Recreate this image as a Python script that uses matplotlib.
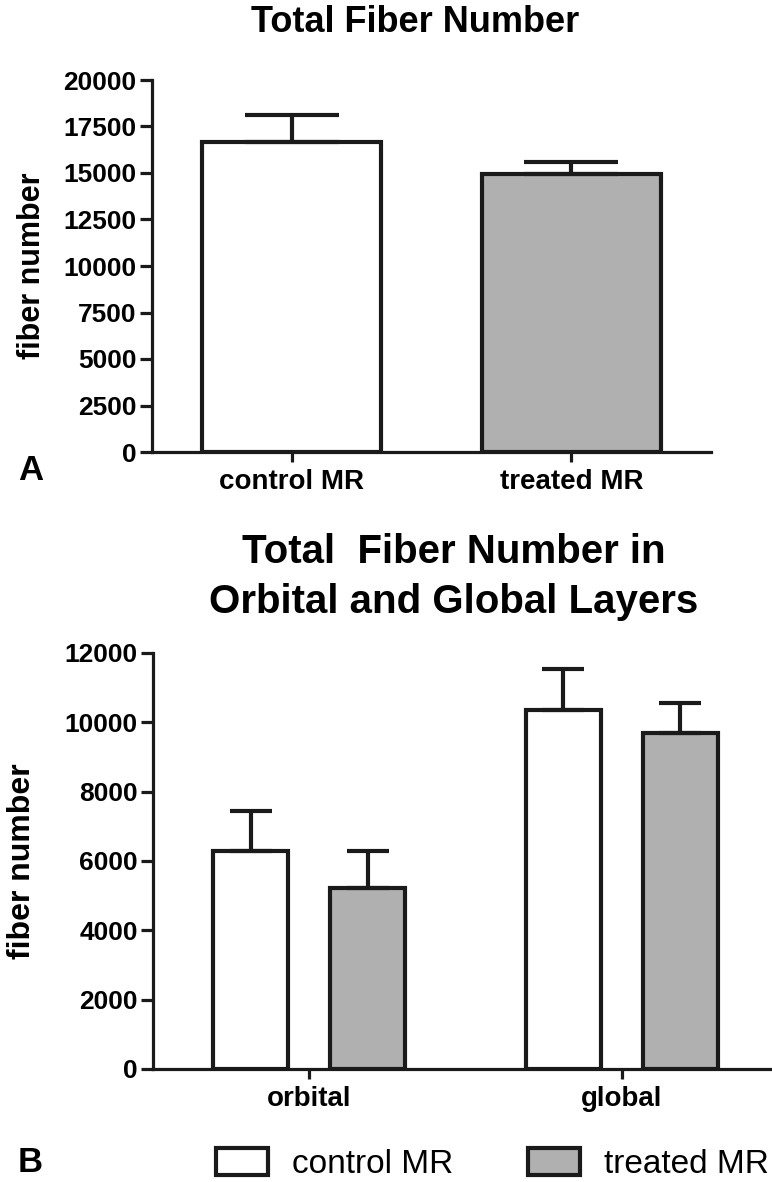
import matplotlib
matplotlib.use("Agg")
import matplotlib.pyplot as plt
import numpy as np

plt.rcParams['font.family'] = ['Liberation Sans', 'DejaVu Sans']

# Panel A data
groups_a = ['control MR', 'treated MR']
means_a = [16650, 14950]
errs_a = [1450, 650]

# Panel B data
layers = ['orbital', 'global']
control_b = [6300, 10350]
control_err_b = [1150, 1200]
treated_b = [5220, 9700]
treated_err_b = [1070, 870]

ticks_a = [0, 2500, 5000, 7500, 10000, 12500, 15000, 17500, 20000]
ticks_b = [0, 2000, 4000, 6000, 8000, 10000, 12000]

edge = '#1a1a1a'
gray = '#b0b0b0'
lw = 3.0

fig = plt.figure(figsize=(7.72, 11.82), dpi=100)


def style_axes(ax):
    for s in ['top', 'right']:
        ax.spines[s].set_visible(False)
    for s in ['left', 'bottom']:
        ax.spines[s].set_linewidth(2.3)
        ax.spines[s].set_color(edge)
    ax.tick_params(axis='y', length=9, width=2.3, color=edge, pad=2,
                   labelsize=19)
    ax.tick_params(axis='x', length=7, width=2.3, color=edge, pad=5,
                   labelsize=20)
    for lab in ax.get_xticklabels() + ax.get_yticklabels():
        lab.set_fontweight('bold')


# ---- Panel A ----
ax1 = fig.add_axes([152 / 772, 1 - 452 / 1182, (711 - 152) / 772, 372 / 1182])
x_a = np.arange(len(groups_a))
ax1.bar(x_a, means_a, width=0.64, color=['white', gray], edgecolor=edge,
        linewidth=lw, zorder=2)
ax1.errorbar(x_a, means_a, yerr=[[0, 0], errs_a], fmt='none', ecolor=edge,
             elinewidth=lw, capsize=34, capthick=lw, zorder=3)
ax1.set_xlim(-0.5, 1.5)
ax1.set_ylim(0, 20000)
ax1.set_yticks(ticks_a)
ax1.set_xticks(x_a)
ax1.set_xticklabels(groups_a)
style_axes(ax1)
ax1.set_ylabel('fiber number', fontsize=22, fontweight='bold')
ax1.yaxis.set_label_coords(-0.188, 0.5)
fig.text(415 / 772, 1 - 22 / 1182, 'Total Fiber Number', ha='center',
         va='center', fontsize=26, fontweight='bold')
fig.text(18 / 772, 1 - 470 / 1182, 'A', ha='left', va='center',
         fontsize=25, fontweight='bold')

# ---- Panel B ----
ax2 = fig.add_axes([153 / 772, 1 - 1069 / 1182, (778 - 153) / 772, 416 / 1182])
x_b = np.arange(len(layers))
off = 0.1875
w = 0.24
b1 = ax2.bar(x_b - off, control_b, width=w, color='white', edgecolor=edge,
             linewidth=lw, zorder=2, label='control MR')
b2 = ax2.bar(x_b + off, treated_b, width=w, color=gray, edgecolor=edge,
             linewidth=lw, zorder=2, label='treated MR')
ax2.errorbar(x_b - off, control_b, yerr=[[0, 0], control_err_b], fmt='none',
             ecolor=edge, elinewidth=lw, capsize=15, capthick=lw, zorder=3)
ax2.errorbar(x_b + off, treated_b, yerr=[[0, 0], treated_err_b], fmt='none',
             ecolor=edge, elinewidth=lw, capsize=15, capthick=lw, zorder=3)
ax2.set_xlim(-0.5, 1.5)
ax2.set_ylim(0, 12000)
ax2.set_yticks(ticks_b)
ax2.set_xticks(x_b)
ax2.set_xticklabels(layers)
style_axes(ax2)
ax2.set_ylabel('fiber number', fontsize=23, fontweight='bold')
ax2.yaxis.set_label_coords(-0.185, 0.5)
fig.text(454 / 772, 1 - 577 / 1182,
         'Total  Fiber Number in\nOrbital and Global Layers', ha='center',
         va='center', fontsize=29, fontweight='bold', linespacing=1.38)
fig.text(18 / 772, 1 - 1163 / 1182, 'B', ha='left', va='center',
         fontsize=25, fontweight='bold')

leg = fig.legend(handles=[b1, b2], labels=['control MR', 'treated MR'],
                 loc='center left', bbox_to_anchor=(216 / 772, 1 - 1164 / 1182),
                 ncol=2, frameon=False, fontsize=24, handlelength=1.56,
                 handleheight=0.84, handletextpad=0.72, columnspacing=2.25,
                 borderpad=0, borderaxespad=0)

fig.savefig('out.png', dpi=100)
